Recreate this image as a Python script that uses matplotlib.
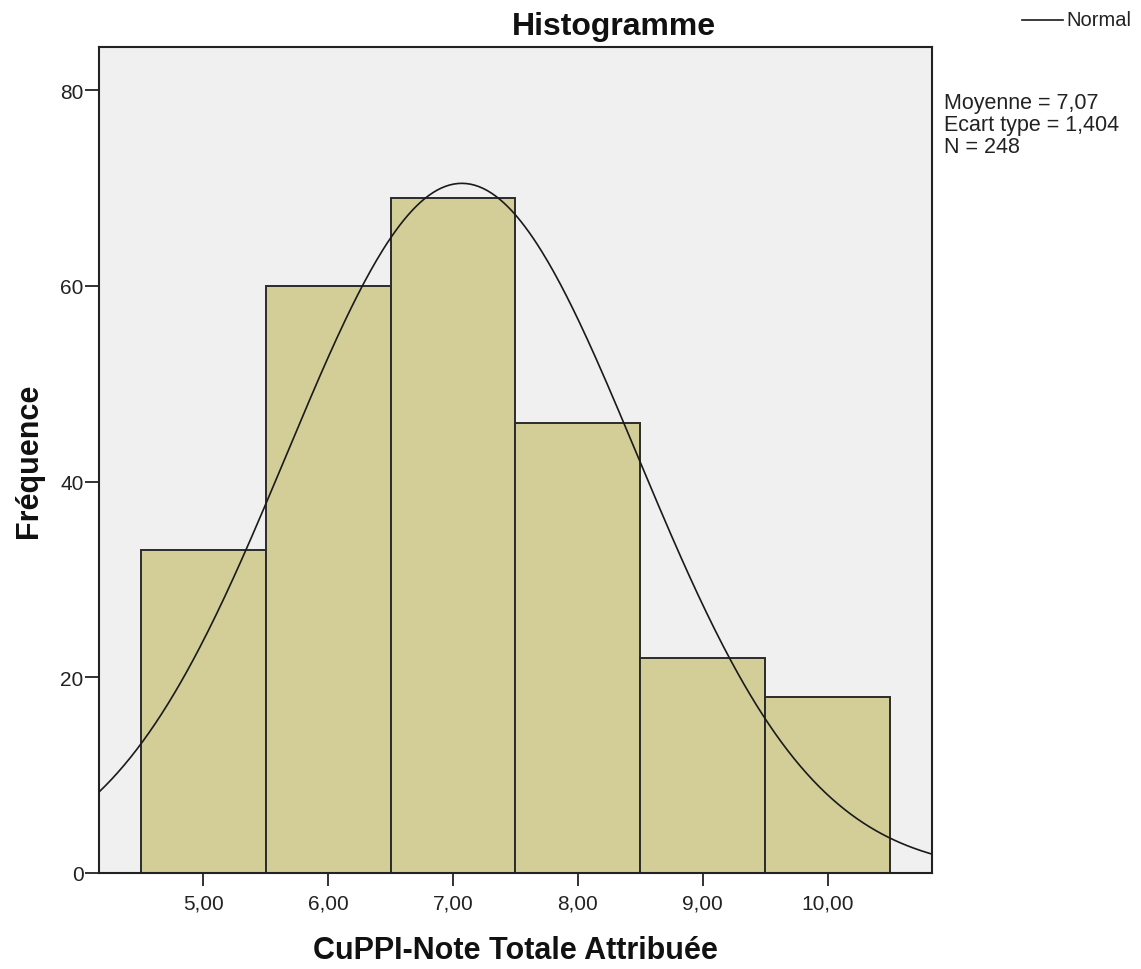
import numpy as np
import matplotlib
matplotlib.use("Agg")
import matplotlib.pyplot as plt
from matplotlib.lines import Line2D

# Data
bin_centers = [5.0, 6.0, 7.0, 8.0, 9.0, 10.0]
frequencies = [33, 60, 69, 46, 22, 18]
bin_width = 1.0
mean_val = 7.07
sd_val = 1.404
n_val = 248
x_tick_values = [5, 6, 7, 8, 9, 10]
x_tick_labels = ["5,00", "6,00", "7,00", "8,00", "9,00", "10,00"]
y_tick_values = [0, 20, 40, 60, 80]

plt.rcParams['font.family'] = ['Liberation Sans', 'DejaVu Sans']

W, H = 1141, 970
fig = plt.figure(figsize=(W / 100, H / 100), dpi=100)
ax = fig.add_axes([99 / W, 1 - 874 / H, (932 - 99) / W, (874 - 48) / H])
ax.set_facecolor('#F0F0F0')

ax.bar(bin_centers, frequencies, width=bin_width, color='#D3CE97',
       edgecolor='#2b2b2b', linewidth=1.4, zorder=2)

xlim = (4.164, 10.836)
xs = np.linspace(xlim[0], xlim[1], 400)
ys = n_val * bin_width / (sd_val * np.sqrt(2 * np.pi)) * np.exp(-0.5 * ((xs - mean_val) / sd_val) ** 2)
ax.plot(xs, ys, color='#1a1a1a', linewidth=1.2, zorder=3)

ax.set_xlim(*xlim)
ax.set_ylim(0, 84.4)
ax.set_xticks(x_tick_values)
ax.set_xticklabels(x_tick_labels)
ax.set_yticks(y_tick_values)
ax.tick_params(axis='both', direction='out', width=1.3, colors='#222222',
               labelsize=15, labelcolor='#222222')
ax.tick_params(axis='x', length=9, pad=6)
ax.tick_params(axis='y', length=10, pad=1)
for s in ax.spines.values():
    s.set_color('#222222')
    s.set_linewidth(1.5)

fig.text(614 / W, 1 - 35 / H, "Histogramme", fontsize=23, fontweight='bold',
         ha='center', va='baseline', color='#111111')
ax.set_xlabel("CuPPI-Note Totale Attribuée", fontsize=22, fontweight='bold', labelpad=16,
              color='#111111')
ax.set_ylabel("Fréquence", fontsize=22, fontweight='bold', labelpad=12, color='#111111')

# Legend (top-right)
fig.add_artist(Line2D([1022 / W, 1063 / W], [1 - 21 / H, 1 - 21 / H], color='#1a1a1a',
                      linewidth=1.2, transform=fig.transFigure))
fig.text(1066 / W, 1 - 21 / H, "Normal", fontsize=14.5, va='center', ha='left', color='#222222')

fig.text(944 / W, 1 - 93 / H,
         "Moyenne = 7,07\nEcart type = 1,404\nN = 248",
         fontsize=15.5, va='top', ha='left', color='#222222', linespacing=1.05)

fig.savefig("out.png", dpi=100)
